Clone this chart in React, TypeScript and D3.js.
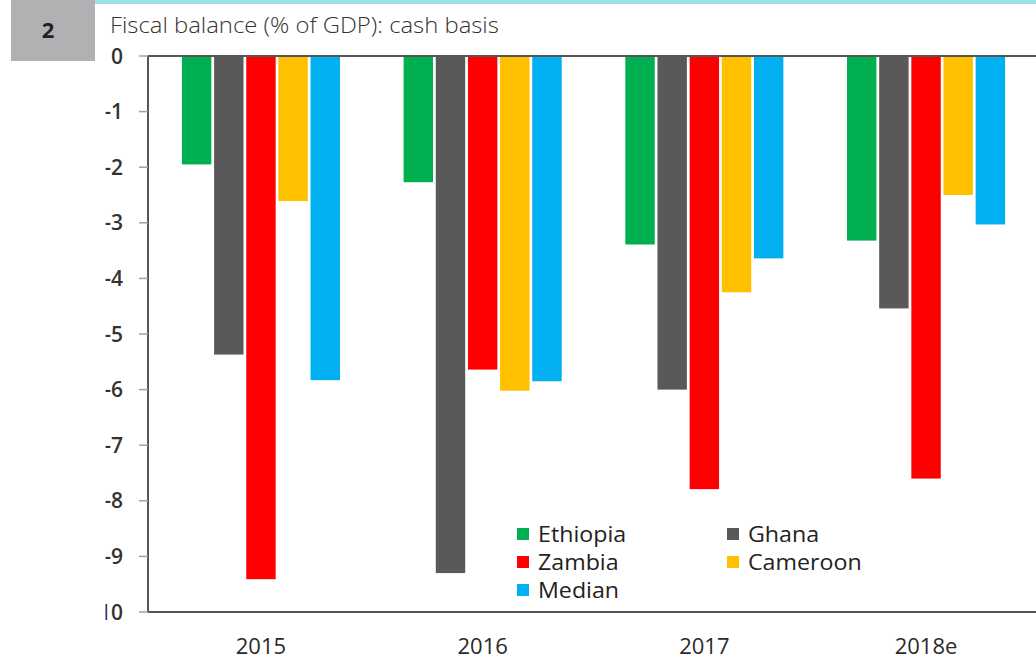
import React from "react";
import * as d3 from "d3";

const categories = ["2015", "2016", "2017", "2018e"];
const seriesNames = ["Ethiopia", "Ghana", "Zambia", "Cameroon", "Median"];
const seriesColors = ["#00b050", "#595959", "#ff0000", "#ffc000", "#00b0f0"];
const ethiopia = [-1.95, -2.27, -3.39, -3.32];
const ghana = [-5.37, -9.3, -6.0, -4.54];
const zambia = [-9.41, -5.64, -7.79, -7.6];
const cameroon = [-2.61, -6.02, -4.25, -2.5];
const median = [-5.83, -5.85, -3.64, -3.03];
const yTicks = [0, -1, -2, -3, -4, -5, -6, -7, -8, -9, -10];

const seriesValues = [ethiopia, ghana, zambia, cameroon, median];

const W = 1036;
const H = 660;
const left = 148;
const top = 56;
const bottom = 612;
const font = "'Open Sans', 'Noto Sans', sans-serif";

export default function App() {
  const x0 = d3.scaleBand<string>().domain(categories).range([left, 1039]).paddingInner(0.287).paddingOuter(0.153);
  const x1 = d3.scaleBand<string>().domain(seriesNames).range([0, x0.bandwidth()]).paddingInner(0.085);
  const y = d3.scaleLinear().domain([0, -10]).range([top, bottom]);

  const legendItems = [
    { name: "Ethiopia", c: 0, r: 0 },
    { name: "Ghana", c: 1, r: 0 },
    { name: "Zambia", c: 0, r: 1 },
    { name: "Cameroon", c: 1, r: 1 },
    { name: "Median", c: 0, r: 2 },
  ];

  return (
    <svg width={W} height={H} style={{ position: "absolute", left: 0, top: 0, background: "#fff" }} fontFamily={font}>
      <defs>
        <clipPath id="lblclip">
          <rect x={105.5} y={0} width={W} height={H} />
        </clipPath>
      </defs>
      <rect x={95} y={0} width={W - 95} height={4} fill="#9ee0ea" />
      <rect x={11} y={0} width={84} height={61} fill="#b1b1b3" />
      <text x={48} y={38} fontSize={22} fontWeight={700} fill="#222" textAnchor="middle">2</text>
      <text transform="translate(110,33) scale(1.06,1)" fontSize={22.5} fontWeight={300} fill="#333">Fiscal balance (% of GDP): cash basis</text>

      {categories.map((cat, i) => (
        <g key={cat} transform={`translate(${x0(cat)},0)`}>
          {seriesNames.map((s, j) => {
            const v = seriesValues[j][i];
            return (
              <rect key={s} x={x1(s)} y={y(0)} width={x1.bandwidth()} height={y(v) - y(0)} fill={seriesColors[j]} />
            );
          })}
        </g>
      ))}

      <line x1={left} x2={W} y1={top} y2={top} stroke="#555" strokeWidth={2} />
      <line x1={left} x2={W} y1={bottom} y2={bottom} stroke="#555" strokeWidth={2} />
      <line x1={left} x2={left} y1={top} y2={bottom} stroke="#555" strokeWidth={2} />

      {yTicks.map((t) => (
        <g key={t}>
          <line x1={139} x2={left} y1={y(t)} y2={y(t)} stroke="#a0a0a0" strokeWidth={1.5} />
          <text x={123} y={y(t)} dy="0.36em" fontSize={21} fontWeight={600} fill="#333" textAnchor="end" clipPath="url(#lblclip)">
            {String(t)}
          </text>
        </g>
      ))}

      {categories.map((cat) => (
        <text key={cat} x={(x0(cat) as number) + x0.bandwidth() / 2} y={646} dy="0.36em" fontSize={22} fontWeight={500} fill="#2a2a2a" textAnchor="middle">
          {cat}
        </text>
      ))}

      {legendItems.map((it) => {
        const idx = seriesNames.indexOf(it.name);
        const lx = it.c === 0 ? 517 : 727;
        const ly = 534 + it.r * 28;
        return (
          <g key={it.name}>
            <rect x={lx} y={ly - 6} width={12} height={12} fill={seriesColors[idx]} />
            <text transform={`translate(${lx + 21},${ly}) scale(1.08,1)`} dy="0.36em" fontSize={21.5} fill="#222">{it.name}</text>
          </g>
        );
      })}
    </svg>
  );
}
